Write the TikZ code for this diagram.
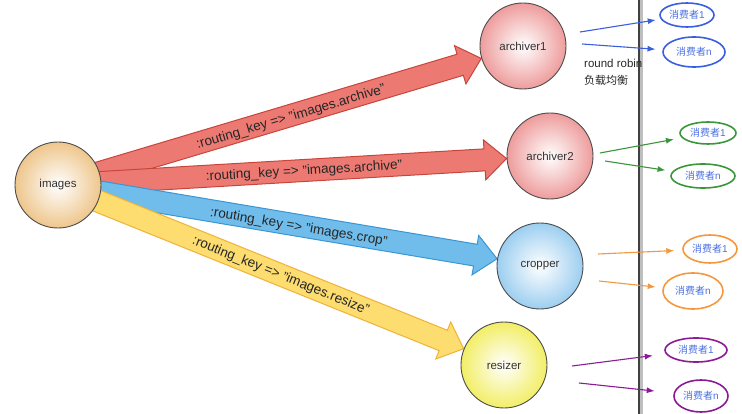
\documentclass[tikz,border=0pt]{standalone}
\usepackage{fontspec}
\setmainfont{Liberation Sans}
\newfontfamily\cjk{Noto Sans CJK SC}
\usetikzlibrary{calc,arrows.meta,shapes.geometric}
\pgfdeclarelayer{bg}
\pgfsetlayers{bg,main}
\definecolor{redF}{HTML}{EC7A72}
\definecolor{redD}{HTML}{C8453B}
\definecolor{bluF}{HTML}{70BDEC}
\definecolor{bluD}{HTML}{3A96D2}
\definecolor{yelF}{HTML}{FDDC70}
\definecolor{yelD}{HTML}{EFB238}
\definecolor{imgC}{HTML}{EEC68C}
\definecolor{arcC}{HTML}{EE9C9C}
\definecolor{cropC}{HTML}{9CCEF0}
\definecolor{resC}{HTML}{F2EE66}
\definecolor{cBlue}{HTML}{3A5EE0}
\definecolor{cGreen}{HTML}{3A963A}
\definecolor{cOrange}{HTML}{F5973C}
\definecolor{cPurple}{HTML}{8A1A96}
\definecolor{cText}{HTML}{4A70E0}
\newcommand\fatarrow[4]{%
  \path let \p1=(#1.center), \p2=(#2.center) in
    \pgfextra{\pgfmathsetmacro\faang{atan2(\y2-\y1,\x2-\x1)}%
      \pgfmathsetmacro\falen{veclen(\x2-\x1,\y2-\y1)-43.5}%
      \xdef\faangG{\faang}\xdef\falenG{\falen}};
  \begin{scope}[shift={(#1.center)}, rotate=\faangG]
    \filldraw[fill=#3, draw=#4, line width=1pt, line join=miter]
      (0pt,11pt) -- ({\falenG pt-22pt},11pt) -- ({\falenG pt-22pt},20pt) --
      (\falenG pt,0pt) -- ({\falenG pt-22pt},-20pt) -- ({\falenG pt-22pt},-11pt) --
      (0pt,-11pt) -- cycle;
  \end{scope}}
\tikzset{
  ball/.style={circle, minimum size=86pt, inner sep=0pt, draw=black!70, line width=0.9pt,
    shading=radial, inner color=white, outer color=#1, text=black!80,
    font=\fontsize{11.5}{13}\selectfont},
  lbl/.style={text=black!85, font=\fontsize{13.5}{16}\selectfont, inner sep=0pt},
  cons/.style={ellipse, draw=#1, line width=1.6pt, inner sep=0pt, text=cText,
    font=\fontsize{10}{12}\selectfont},
  thin/.style={draw=#1, line width=1.1pt, -{Latex[length=8pt,width=6pt]}},
}
\begin{document}
\begin{tikzpicture}[x=1pt,y=-1pt]
\useasboundingbox (0,0) rectangle (742,414);
% separator
\draw[black!25, line width=3pt] (641.5,0) -- (641.5,414);
\draw[black!75, line width=1.4pt] (639,0) -- (639,414);
% main nodes
\node[ball=imgC] (img) at (58,185) {images};
\node[ball=arcC] (a1) at (523,46) {archiver1};
\node[ball=arcC] (a2) at (550,156) {archiver2};
\node[ball=cropC] (cr) at (540,266) {cropper};
\node[ball=resC] (rs) at (504,365) {resizer};
\begin{pgfonlayer}{bg}
\fatarrow{img}{a1}{redF}{redD}
\fatarrow{img}{a2}{redF}{redD}
\fatarrow{img}{cr}{bluF}{bluD}
\fatarrow{img}{rs}{yelF}{yelD}
\end{pgfonlayer}
\path (img.center) -- (a1.center) node[midway, sloped, lbl, yshift=-2pt] {:routing\_key => "images.archive"};
\path (img.center) -- (a2.center) node[midway, sloped, lbl, yshift=-1pt] {:routing\_key => "images.archive"};
\path (img.center) -- (cr.center) node[midway, sloped, lbl, yshift=-2pt] {:routing\_key => "images.crop"};
\path (img.center) -- (rs.center) node[midway, sloped, lbl, yshift=-1pt] {:routing\_key => "images.resize"};
% round robin
\node[anchor=west, inner sep=0pt, font=\fontsize{11.5}{13}\selectfont, text=black!85] (rr) at (584,63) {round robin};
\node[anchor=west, inner sep=0pt, font=\fontsize{11}{13}\cjk, text=black!85] (lb) at (584,80) {负载均衡};
% consumers
\node[cons=cBlue, minimum width=54pt, minimum height=24pt] (b1) at (687,15) {{\cjk 消费者}1};
\node[cons=cBlue, minimum width=62pt, minimum height=30pt] (bn) at (694,52) {{\cjk 消费者}n};
\node[cons=cGreen, minimum width=56pt, minimum height=22pt] (g1) at (708,133) {{\cjk 消费者}1};
\node[cons=cGreen, minimum width=64pt, minimum height=24pt] (gn) at (703,176) {{\cjk 消费者}n};
\node[cons=cOrange, minimum width=54pt, minimum height=28pt] (o1) at (710,249) {{\cjk 消费者}1};
\node[cons=cOrange, minimum width=60pt, minimum height=36pt] (on) at (693,291) {{\cjk 消费者}n};
\node[cons=cPurple, minimum width=62pt, minimum height=24pt] (p1) at (696,350) {{\cjk 消费者}1};
\node[cons=cPurple, minimum width=54pt, minimum height=32pt] (pn) at (701,396) {{\cjk 消费者}n};
% consumer arrows
\coordinate (sb1) at (580,32);
\coordinate (sbn) at (582,44);
\coordinate (sg1) at (600,153);
\coordinate (sgn) at (605,161);
\coordinate (so1) at (598,254);
\coordinate (son) at (599,281);
\coordinate (sp1) at (572,366);
\coordinate (spn) at (579,383);
\draw[thin=cBlue, shorten >=5pt] (sb1) -- (b1);
\draw[thin=cBlue, shorten >=7pt] (sbn) -- (bn);
\draw[thin=cGreen, shorten >=8pt] (sg1) -- (g1);
\draw[thin=cGreen, shorten >=7pt] (sgn) -- (gn);
\draw[thin=cOrange, shorten >=8pt] (so1) -- (o1);
\draw[thin=cOrange, shorten >=7pt] (son) -- (on);
\draw[thin=cPurple, shorten >=13pt] (sp1) -- (p1);
\draw[thin=cPurple, shorten >=19pt] (spn) -- (pn);
\end{tikzpicture}
\end{document}
